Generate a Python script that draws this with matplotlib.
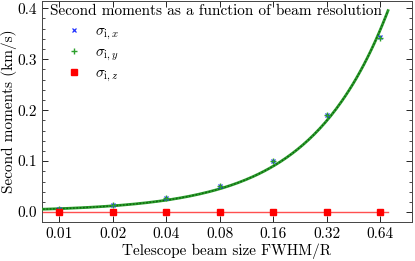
import numpy as np
import matplotlib
matplotlib.use("Agg")
import matplotlib.pyplot as plt
from matplotlib.ticker import FixedLocator, NullLocator, AutoMinorLocator

plt.rcParams['font.family'] = 'serif'
plt.rcParams['font.serif'] = ['cmr10', 'DejaVu Serif']
plt.rcParams['mathtext.fontset'] = 'cm'
plt.rcParams['axes.formatter.use_mathtext'] = True

# beam sizes (FWHM/R)
beam = [0.01, 0.02, 0.04, 0.08, 0.16, 0.32, 0.64]
tick_labels = ['0.01', '0.02', '0.04', '0.08', '0.16', '0.32', '0.64']

# measured second moments (km/s)
sigma_x = [0.007, 0.014, 0.027, 0.052, 0.101, 0.190, 0.343]
sigma_y = [0.007, 0.014, 0.027, 0.052, 0.101, 0.190, 0.342]
sigma_z = [0.0, 0.0, 0.0, 0.0, 0.0, 0.0, 0.0]

# linear fit parameters
fit_x_slope, fit_x_offset = 0.555, 0.0012
fit_y_slope, fit_y_offset = 0.555, 0.0012
fit_z_slope, fit_z_offset = 0.0, 0.0
fit_range = (0.006, 0.71)

fig, ax = plt.subplots(figsize=(4.15, 2.61), dpi=100)
fig.subplots_adjust(left=0.101, right=0.993, bottom=0.149, top=0.996)

xf = np.geomspace(fit_range[0], fit_range[1], 200)
ax.plot(xf, fit_x_slope * xf + fit_x_offset, color='blue', lw=1.0, zorder=2)
ax.plot(xf, fit_y_slope * xf + fit_y_offset, color='#2ca02c', lw=2.0, zorder=3)
ax.plot(xf, fit_y_slope * xf + fit_y_offset, color='#106010', lw=1.0,
        ls=(0, (1.2, 1.2)), zorder=4)
ax.plot(xf, fit_z_slope * xf + fit_z_offset, color='#ff5050', lw=1.0, zorder=2)

ax.plot(beam, sigma_x, 'x', color='#2030ff', ms=3.5, mew=0.9, zorder=5,
        label=r'$\sigma_{\mathrm{i},x}$')
ax.plot(beam, sigma_y, '+', color='#2ca02c', ms=4.5, mew=1.0, zorder=5,
        label=r'$\sigma_{\mathrm{i},y}$')
ax.plot(beam, sigma_z, 's', color='red', ms=4.5, zorder=5,
        label=r'$\sigma_{\mathrm{i},z}$')

ax.set_xscale('log', base=2)
ax.set_xlim(0.0080, 0.97)
ax.set_ylim(-0.0196, 0.414)
ax.xaxis.set_major_locator(FixedLocator(beam))
ax.xaxis.set_minor_locator(NullLocator())
ax.set_xticklabels(tick_labels)
ax.set_yticks([0.0, 0.1, 0.2, 0.3, 0.4])
ax.set_yticklabels(['0.0', '0.1', '0.2', '0.3', '0.4'])
ax.yaxis.set_minor_locator(AutoMinorLocator(5))
ax.tick_params(which='both', direction='in', top=True, right=True, labelsize=11)
ax.tick_params(which='major', length=4, width=0.6)
ax.tick_params(which='minor', length=2, width=0.5)
for s in ax.spines.values():
    s.set_linewidth(0.7)
    s.set_color('#444444')

ax.set_xlabel('Telescope beam size FWHM/R', fontsize=11, labelpad=2)
ax.set_ylabel('Second moments (km/s)', fontsize=11, labelpad=0.5)

# legend title drawn as plain text, entries indented below it
ax.text(0.0216, 0.985, 'Second moments as a function of beam resolution',
        transform=ax.transAxes, ha='left', va='top', fontsize=11)
ax.legend(loc='upper left', bbox_to_anchor=(0.042, 0.895), frameon=False,
          fontsize=11, handlelength=2.16, handletextpad=0.3,
          borderaxespad=0, borderpad=0, labelspacing=0.25)

fig.savefig('out.png', dpi=100)
